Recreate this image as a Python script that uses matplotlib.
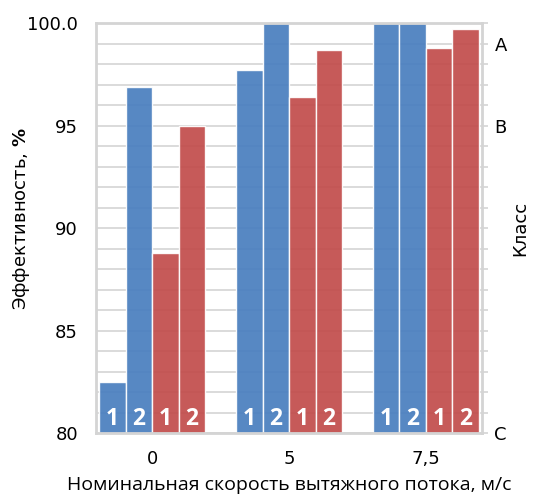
import numpy as np
import matplotlib.pyplot as plt

plt.rcParams['font.family'] = ['DejaVu Sans']

# data
speeds = ['0', '5', '7,5']
blue_1 = [82.5, 97.7, 100.0]
blue_2 = [96.9, 100.0, 100.0]
red_1 = [88.8, 96.4, 98.8]
red_2 = [95.0, 98.7, 99.7]
bar_labels = ['1', '2', '1', '2']
class_ticks = [99, 95, 80]
class_labels = ['A', 'B', 'C']

blue = '#4a7fbf'
red = '#c24d4c'
grid_c = '#d4d4d4'

fig = plt.figure(figsize=(5.34, 4.96), dpi=100)
ax = fig.add_axes([0.18, 0.127, 0.7226, 0.8266])

x = np.arange(len(speeds))
w = 0.194
series = [(blue_1, blue), (blue_2, blue), (red_1, red), (red_2, red)]
for i, (vals, c) in enumerate(series):
    pos = x + (i - 1.5) * w
    ax.bar(pos, np.array(vals) - 80, bottom=80, width=w, color=c,
           edgecolor='white', linewidth=1, alpha=0.93, zorder=2)
    for p in pos:
        ax.text(p, 80.7, bar_labels[i], color='white', fontsize=16.5,
                fontweight='bold', family='Open Sans',
                ha='center', va='center', zorder=3)

ax.set_ylim(80, 100)
ax.set_xlim(-0.41, 2.41)
ax.set_yticks(np.arange(80, 101, 1), minor=True)
ax.set_yticks([80, 85, 90, 95, 100])
ax.set_yticklabels(['80', '85', '90', '95', '100.0'], fontsize=13)
ax.set_xticks(x)
ax.set_xticklabels(speeds, fontsize=13)
ax.tick_params(axis='both', which='both', length=0)
ax.tick_params(axis='y', pad=13)
ax.tick_params(axis='x', pad=12)
ax.grid(axis='y', which='both', color=grid_c, linewidth=1.2, zorder=0)
ax.set_axisbelow(True)
for s in ax.spines.values():
    s.set_color(grid_c)
    s.set_linewidth(2)

ax.set_xlabel('Номинальная скорость вытяжного потока, м/с', fontsize=14,
              family='Open Sans', labelpad=6)
ax.set_ylabel('Эффективность, $\\mathbf{\\%}$', fontsize=13)
ax.yaxis.set_label_coords(-0.166, 0.523)

ax2 = ax.twinx()
ax2.set_ylim(80, 100)
ax2.set_yticks(np.arange(80, 101, 1), minor=True)
ax2.set_yticks(class_ticks)
ax2.set_yticklabels(class_labels, fontsize=13)
ax2.tick_params(axis='y', which='both', length=4, color=grid_c, width=1.2, pad=5)
ax2.set_ylabel('Класс', fontsize=13, labelpad=3)
for s in ax2.spines.values():
    s.set_visible(False)

fig.savefig('out.png', dpi=100)
